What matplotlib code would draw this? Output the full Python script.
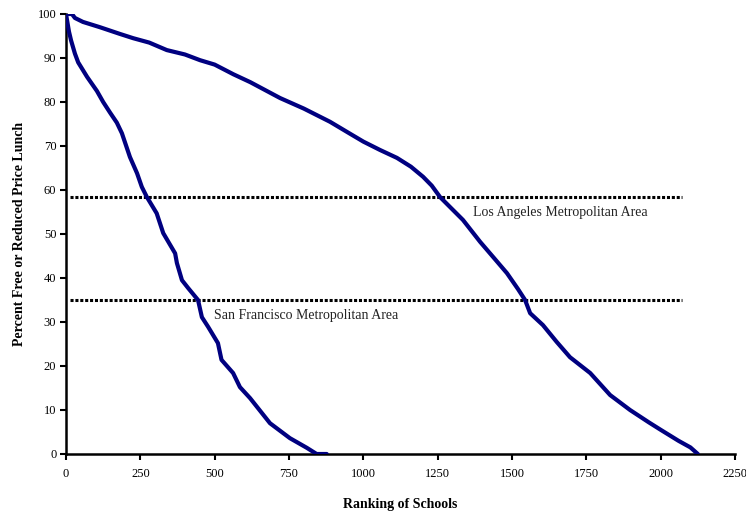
import matplotlib
matplotlib.use("Agg")
import matplotlib.pyplot as plt

plt.rcParams['font.family'] = ['Liberation Serif', 'DejaVu Serif']

# Los Angeles Metropolitan Area curve (ranking, percent FRPL)
la_x = [0, 20, 30, 57, 114, 180, 226, 280, 339, 400, 451, 500, 563, 620, 720, 800,
        888, 950, 1000, 1056, 1113, 1160, 1201, 1230, 1258, 1292, 1335, 1393, 1440,
        1483, 1520, 1544, 1561, 1604, 1650, 1695, 1763, 1830, 1897, 1960, 2000, 2060,
        2100, 2125]
la_y = [100, 100, 99.1, 98.2, 97, 95.5, 94.5, 93.5, 91.8, 90.8, 89.5, 88.5, 86.3,
        84.5, 80.9, 78.5, 75.5, 73, 71, 69.1, 67.3, 65.3, 63, 61, 58.4, 56.1, 53.2,
        48.2, 44.5, 41.1, 37.5, 35, 32, 29.3, 25.5, 22, 18.4, 13.4, 10, 7.2, 5.5, 3,
        1.5, 0]

# San Francisco Metropolitan Area curve
sf_x = [0, 5, 10, 17, 30, 41, 71, 104, 125, 148, 171, 188, 215, 239, 255, 272, 305,
        327, 367, 373, 390, 411, 444, 457, 478, 511, 523, 562, 585, 619, 686, 753,
        810, 843, 877]
sf_y = [100, 98, 96, 94, 91, 89, 85.7, 82.5, 80, 77.6, 75.3, 72.9, 67.5, 63.8, 60.7,
        58.4, 54.7, 50.2, 45.6, 43.4, 39.5, 37.7, 35, 31.1, 28.9, 25.2, 21.4, 18.4,
        15.2, 12.7, 7, 3.6, 1.4, 0, 0]

# Reference lines
ref_levels = [58.5, 35]
ref_xrange = [13, 2072]
labels = ["Los Angeles Metropolitan Area", "San Francisco Metropolitan Area"]
label_pos = [(1369, 54.8), (498, 31.4)]

x_ticks = [0, 250, 500, 750, 1000, 1250, 1500, 1750, 2000, 2250]
y_ticks = [0, 10, 20, 30, 40, 50, 60, 70, 80, 90, 100]

fig = plt.figure(figsize=(7.46, 5.14), dpi=100)
ax = fig.add_axes([66/746, 60/514, 669/746, 440/514])

navy = '#000080'
ax.plot(la_x, la_y, color=navy, lw=3.0, solid_capstyle='round', solid_joinstyle='round', zorder=3)
ax.plot(sf_x, sf_y, color=navy, lw=3.0, solid_capstyle='round', solid_joinstyle='round', zorder=3)

for lvl in ref_levels:
    ax.plot(ref_xrange, [lvl, lvl], color='black', lw=2.2, linestyle=(0, (1.0, 0.6)),
            dash_capstyle='butt', zorder=2)

for txt, (tx, ty) in zip(labels, label_pos):
    ax.text(tx, ty, txt, fontsize=10, va='center', ha='left', color='#222222')

ax.set_xlim(0, 2250)
ax.set_ylim(0, 100)
ax.set_xticks(x_ticks)
ax.set_yticks(y_ticks)
ax.tick_params(axis='both', direction='out', length=4, width=1.5, labelsize=9, colors='black')
ax.tick_params(axis='x', pad=6)
ax.tick_params(axis='y', pad=3)
for s in ['top', 'right']:
    ax.spines[s].set_visible(False)
for s in ['left', 'bottom']:
    ax.spines[s].set_linewidth(1.8)

ax.set_xlabel('Ranking of Schools', fontsize=10, fontweight='bold', labelpad=13)
ax.set_ylabel('Percent Free or Reduced Price Lunch', fontsize=10, fontweight='bold', labelpad=8)

fig.savefig('out.png', dpi=100)
